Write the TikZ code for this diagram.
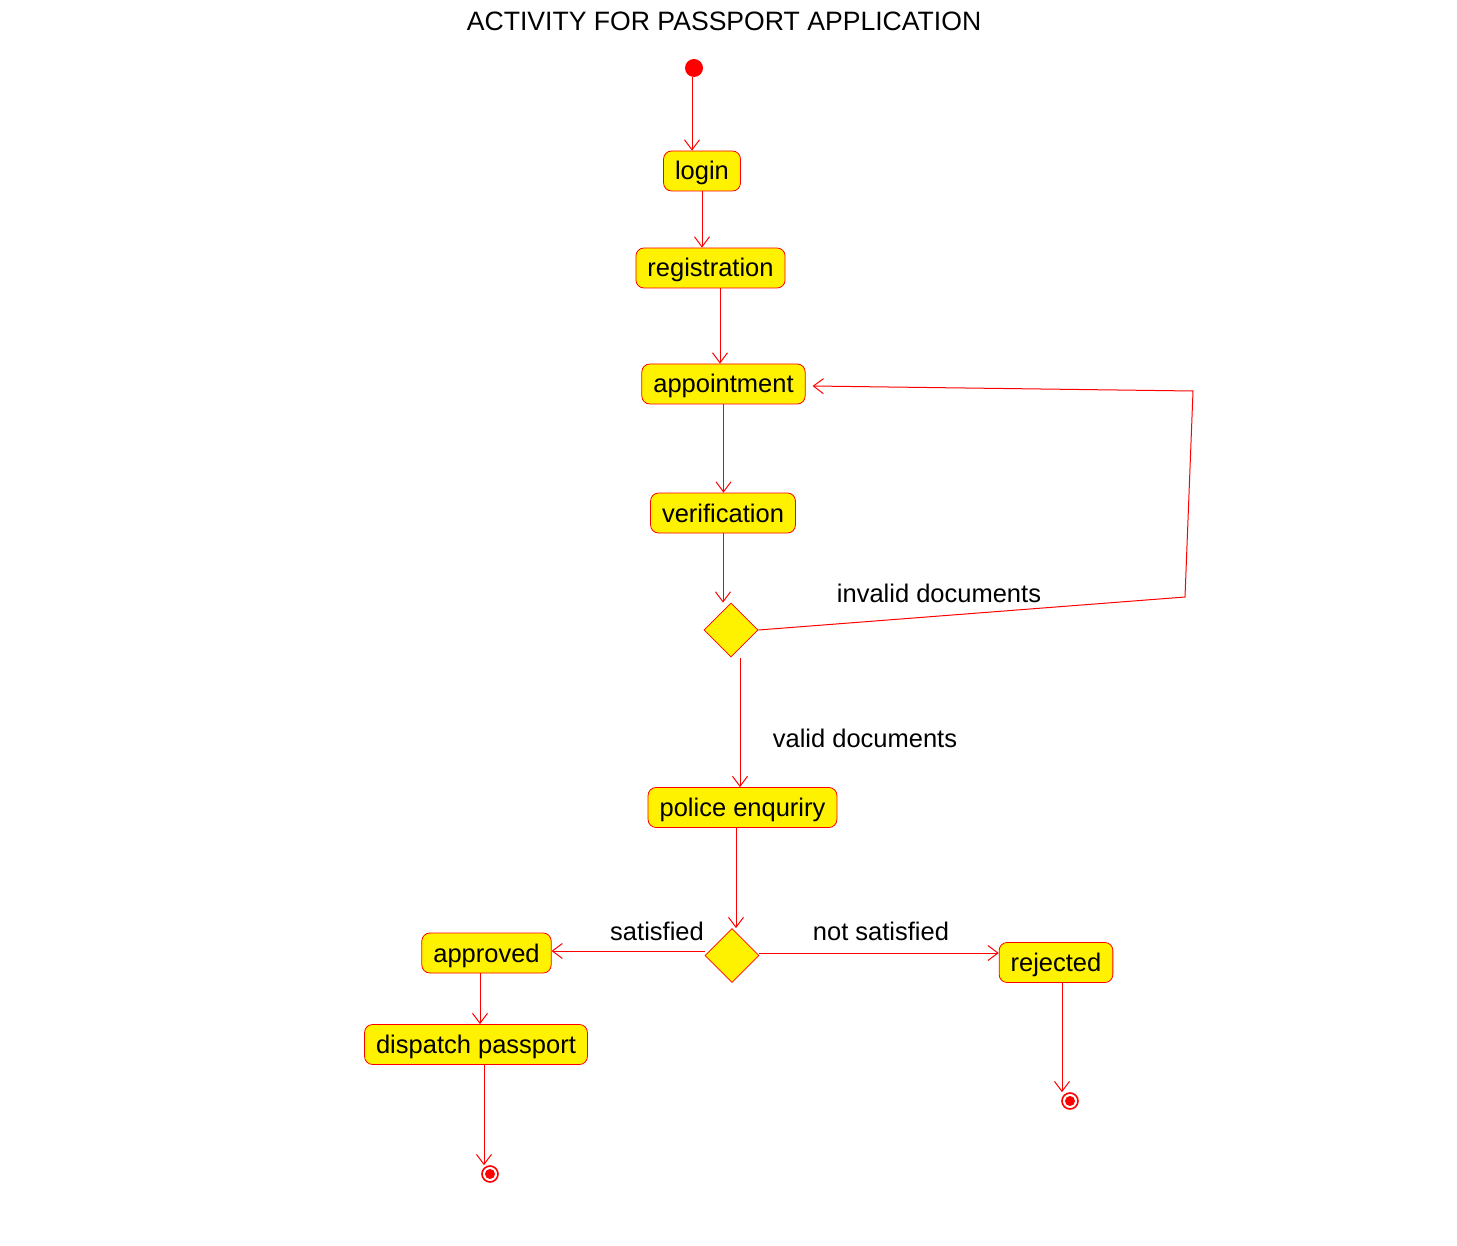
\documentclass[tikz,border=0pt]{standalone}
\usepackage{fontspec}
\setmainfont{Liberation Sans}
\usetikzlibrary{arrows.meta,shapes.geometric}
\begin{document}
\begin{tikzpicture}[x=1pt,y=-1pt,
    act/.style={draw=red,fill=yellow,rounded corners=8pt,line width=0.8pt,minimum height=40pt,
        inner xsep=11.5pt,inner ysep=0pt,text height=20pt,text depth=2pt,font=\fontsize{25.5}{30}\selectfont},
    decision/.style={diamond,draw=red,fill=yellow,line width=0.8pt,minimum width=54pt,minimum height=54pt,inner sep=0pt},
    flow/.style={draw=red,line width=1pt,-{Straight Barb[length=10pt,width=15pt]}},
    guard/.style={anchor=base,font=\fontsize{25.5}{30}\selectfont},
    finish/.style={circle,draw=red,fill=white,line width=1.6pt,inner sep=0pt,minimum size=16pt}]
    \useasboundingbox (0,0) rectangle (1457,1246);

    \node[anchor=base,font=\fontsize{26.6}{30}\selectfont] (title) at (724,31) {ACTIVITY FOR PASSPORT APPLICATION};

    \node[circle,fill=red,inner sep=0pt,minimum size=18pt] (start) at (694,68) {};
    \node[act] (login) at (702,171) {login};
    \node[act] (reg) at (710.5,268) {registration};
    \node[act] (app) at (723.5,384) {appointment};
    \node[act] (ver) at (723,513) {verification};
    \node[decision] (d1) at (731,630) {};
    \node[act] (police) at (742.5,807.5) {police enquriry};
    \node[decision] (d2) at (732,955.5) {};
    \node[act] (approved) at (486.5,953) {approved};
    \node[act] (dispatch) at (476,1044.5) {dispatch passport};
    \node[act] (rejected) at (1056,962.5) {rejected};
    \node[finish] (end1) at (490,1174) {};
    \node[finish] (end2) at (1070,1101) {};
    \fill[red] (end1) circle (5pt);
    \fill[red] (end2) circle (5pt);

    \draw (1185,597) coordinate (c1);
    \draw (1193,391) coordinate (c2);

    \draw[flow] ([xshift=-2pt]start.south) -- ([xshift=-2pt]start.south |- login.north);
    \draw[flow] (login.south) -- (login.south |- reg.north);
    \draw[flow] ([xshift=9.5pt]reg.south) -- ([xshift=9.5pt]reg.south |- app.north);
    \draw[flow] (app.south) -- (app.south |- ver.north);
    \draw[flow] (ver.south) -- (ver.south |- d1.north);
    \draw[flow] (d1.east) -- (c1) -- (c2) -- ([xshift=7pt,yshift=-2pt]app.east);
    \draw[flow] ([xshift=9pt,yshift=-1pt]d1.south) -- ([xshift=9pt]d1.south |- police.north);
    \draw[flow] ([xshift=-6.5pt]police.south) -- ([xshift=-6.5pt]police.south |- d2.north);
    \draw[flow] ([yshift=4.5pt]d2.west) -- ([yshift=4.5pt]d2.west -| approved.east);
    \draw[flow] ([yshift=2.5pt]d2.east) -- ([yshift=2.5pt]d2.east -| rejected.west);
    \draw[flow] ([xshift=-6.5pt]approved.south) -- ([xshift=-6.5pt]approved.south |- dispatch.north);
    \draw[flow] ([xshift=8pt]dispatch.south) -- ([xshift=8pt]dispatch.south |- end1.north);
    \draw[flow] ([xshift=6pt]rejected.south) -- ([xshift=6pt]rejected.south |- end2.north);

    \node[guard] (invalid) at (939,602) {invalid documents};
    \node[guard] (valid) at (865,747) {valid documents};
    \node[guard] (sat) at (657,940) {satisfied};
    \node[guard] (notsat) at (881,940) {not satisfied};
\end{tikzpicture}
\end{document}
